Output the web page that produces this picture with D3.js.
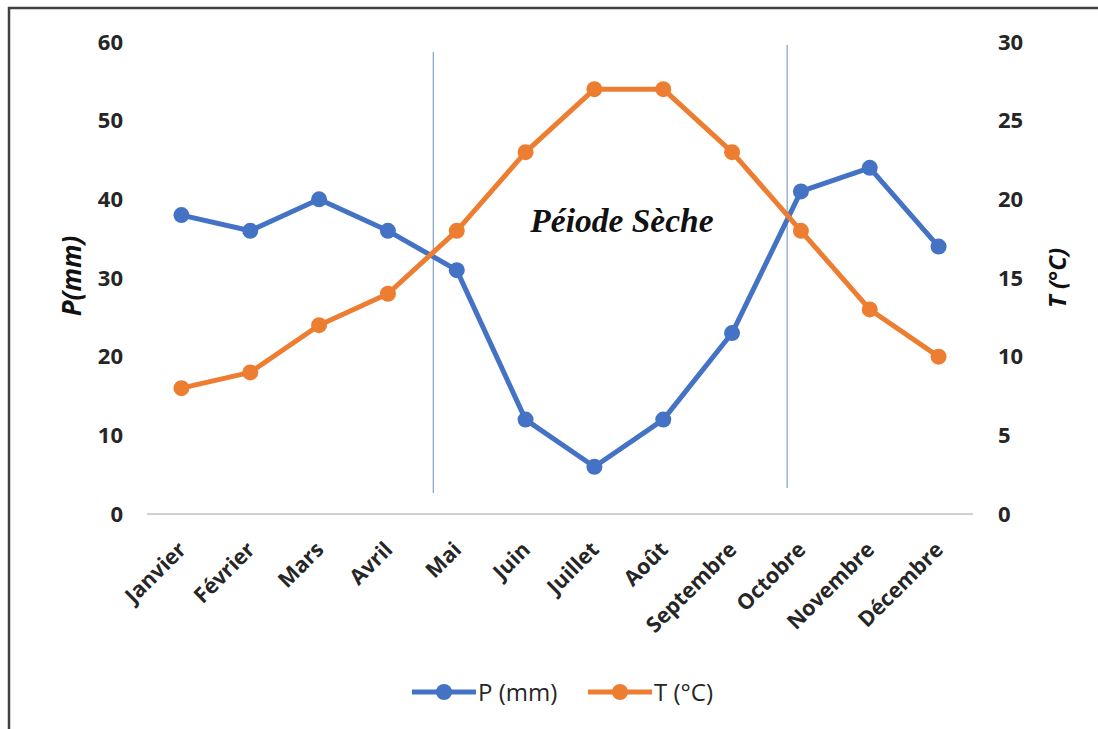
<!DOCTYPE html>
<html><head><meta charset="utf-8">
<script src="https://cdn.jsdelivr.net/npm/d3@7"></script>
<style>body{margin:0;background:#fff}svg{display:block}</style>
</head><body>
<svg id="c" width="1098" height="729"></svg>
<script>
const months = ["Janvier","Février","Mars","Avril","Mai","Juin","Juillet","Août","Septembre","Octobre","Novembre","Décembre"];
const precip = [38,36,40,36,31,12,6,12,23,41,44,34];
const temp = [8,9,12,14,18,23,27,27,23,18,13,10];
const pTicks = [0,10,20,30,40,50,60];
const tTicks = [0,5,10,15,20,25,30];
// dry period boundaries, as fractional month index
const dryBounds = [3.66, 8.8];
const dryLabel = "Péiode Sèche";

const svg = d3.select("#c");
const blue = "#4472C4", orange = "#ED7D31";
const L = 147, R = 973, T0 = 42, B = 514;
const font = "'Open Sans', sans-serif";

// frame (left and top edges)
svg.append("path").attr("d","M9,729 L9,8 L1098,8").attr("fill","none").attr("stroke","#404040").attr("stroke-width",2.5);

const x = d3.scaleBand().domain(months).range([L,R]);
const xi = d3.scaleLinear().domain([0,11]).range([x(months[0])+x.bandwidth()/2, x(months[11])+x.bandwidth()/2]);
const yP = d3.scaleLinear().domain([0,60]).range([B,T0]);
const yT = d3.scaleLinear().domain([0,30]).range([B,T0]);

// baseline
svg.append("line").attr("x1",L).attr("x2",R).attr("y1",B).attr("y2",B).attr("stroke","#d0d0d0").attr("stroke-width",2);

const gl = svg.append("g").attr("transform",`translate(${L},0)`)
  .call(d3.axisLeft(yP).tickValues(pTicks).tickSize(0).tickPadding(24));
const gr = svg.append("g").attr("transform",`translate(${R},0)`)
  .call(d3.axisRight(yT).tickValues(tTicks).tickSize(0).tickPadding(25));
[gl,gr].forEach(g=>{g.select(".domain").remove();
  g.selectAll("text").attr("font-family",font).attr("font-size",22).attr("font-weight","bold").attr("fill","#262626");});

const gx = svg.append("g").attr("transform",`translate(0,${B})`)
  .call(d3.axisBottom(x).tickSize(0).tickPadding(0));
gx.select(".domain").remove();
gx.selectAll("text").attr("font-family",font).attr("font-size",21.5).attr("font-weight","bold").attr("fill","#262626")
  .attr("text-anchor","end").attr("dy",0).attr("transform","translate(6,37) rotate(-45)");

// axis titles
svg.append("text").attr("transform","translate(81,276) rotate(-90)").attr("text-anchor","middle")
  .attr("font-family",font).attr("font-size",26).attr("font-style","italic").attr("font-weight","bold").attr("fill","#111").text("P(mm)");
svg.append("text").attr("transform","translate(1066,278) rotate(-90)").attr("text-anchor","middle")
  .attr("font-family",font).attr("font-size",24).attr("font-style","italic").attr("font-weight","bold").attr("fill","#111").text("T (°C)");

// dry period lines
const dl = [[52,493],[45,488]];
dryBounds.forEach((b,i)=>{
  svg.append("line").attr("x1",xi(b)).attr("x2",xi(b)).attr("y1",dl[i][0]).attr("y2",dl[i][1])
    .attr("stroke","#8aa8cc").attr("stroke-width",1.3);
});
svg.append("text").attr("x",622).attr("y",232).attr("text-anchor","middle")
  .attr("font-family","'Liberation Serif','Times New Roman',serif").attr("font-size",33.5)
  .attr("font-style","italic").attr("font-weight","bold").attr("fill","#111").text(dryLabel);

function series(vals, y, col){
  const line = d3.line().x((d,i)=>x(months[i])+x.bandwidth()/2).y(d=>y(d));
  svg.append("path").datum(vals).attr("d",line).attr("fill","none").attr("stroke",col).attr("stroke-width",5).attr("stroke-linejoin","round");
  svg.append("g").selectAll("circle").data(vals).join("circle")
    .attr("cx",(d,i)=>x(months[i])+x.bandwidth()/2).attr("cy",d=>y(d)).attr("r",8).attr("fill",col);
}
series(precip, yP, blue);
series(temp, yT, orange);

// legend
const leg = [{n:"P (mm)",c:blue,x:412},{n:"T (°C)",c:orange,x:588}];
leg.forEach(l=>{
  const g = svg.append("g").attr("transform",`translate(${l.x},692)`);
  g.append("line").attr("x1",0).attr("x2",64).attr("stroke",l.c).attr("stroke-width",5);
  g.append("circle").attr("cx",32).attr("r",8).attr("fill",l.c);
  g.append("text").attr("x",66).attr("y",8.5).attr("font-family",font).attr("font-size",24).attr("fill","#262626").text(l.n);
});
</script>
</body></html>
